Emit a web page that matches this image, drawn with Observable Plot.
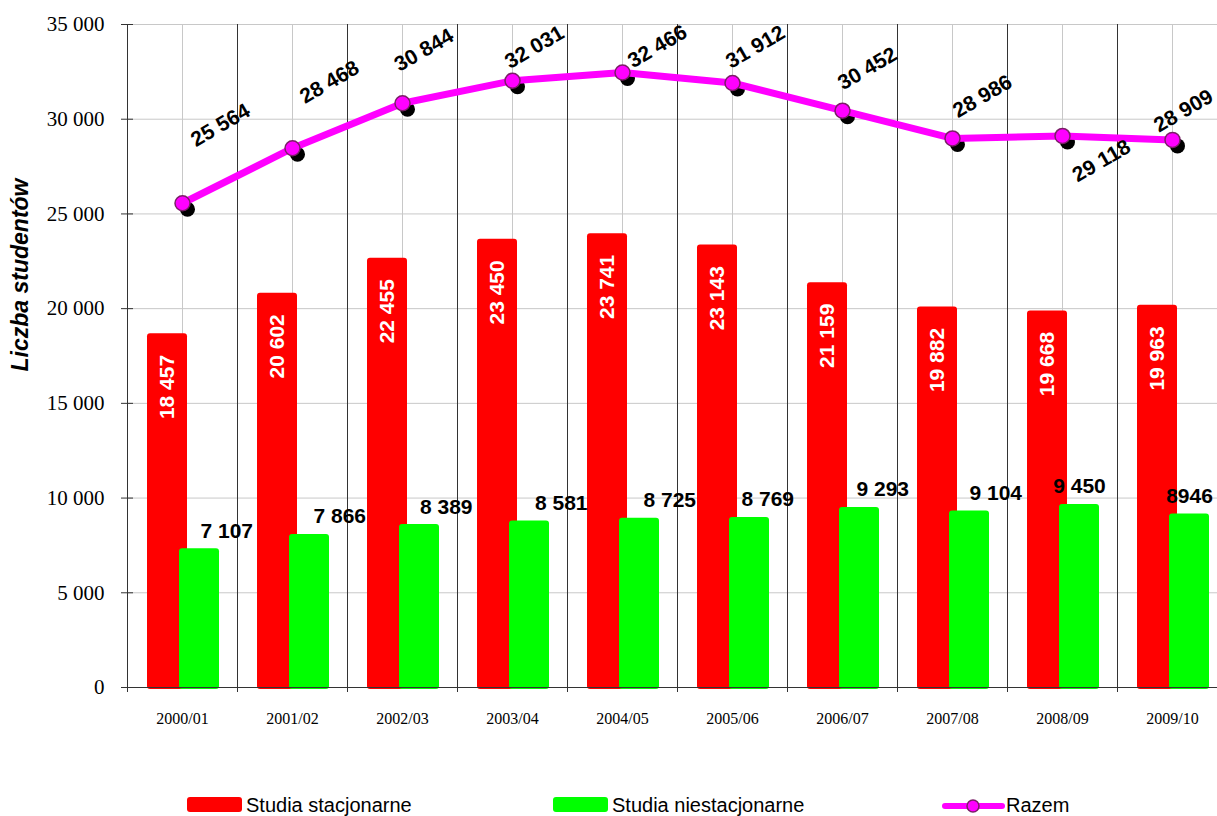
<!DOCTYPE html>
<html>
<head>
<meta charset="utf-8">
<script src="https://cdn.jsdelivr.net/npm/d3@7"></script>
<script src="https://cdn.jsdelivr.net/npm/@observablehq/plot@0.6"></script>
<style>
  html, body { margin: 0; padding: 0; background: #fff; }
  #chart svg { display: block; }
</style>
</head>
<body>
<div id="chart"></div>
<script>
// ---- data ----
const years = ["2000/01","2001/02","2002/03","2003/04","2004/05","2005/06","2006/07","2007/08","2008/09","2009/10"];
const stacjonarne = [18457, 20602, 22455, 23450, 23741, 23143, 21159, 19882, 19668, 19963];
const niestacjonarne = [7107, 7866, 8389, 8581, 8725, 8769, 9293, 9104, 9450, 8946];
const razem = [25564, 28468, 30844, 32031, 32466, 31912, 30452, 28986, 29118, 28909];
const niestacjonarneLabels = ["7 107","7 866","8 389","8 581","8 725","8 769","9 293","9 104","9 450","8946"];
const yTicks = [0, 5000, 10000, 15000, 20000, 25000, 30000, 35000];
const seriesNames = ["Studia stacjonarne", "Studia niestacjonarne", "Razem"];
const yTitle = "Liczba studentów";

// ---- label placement (styling, pixels) ----
const greenLabelPlace = [[18,"start"],[21,"start"],[17.5,"start"],[22.5,"start"],[21,"start"],[9,"start"],[14,"start"],[17,"start"],[17,"middle"],[17,"middle"]];
const totalLabelPlace = [[38,-78],[37,-66],[21.5,-53],[22,-33.5],[35,-26],[23,-36],[25,-42],[30,-42],[39,25],[11,-29]];

const fmt = v => d3.format(",")(v).replace(/,/g, " ");
const data = years.map((y, i) => ({year: y, s: stacjonarne[i], n: niestacjonarne[i], r: razem[i], nl: niestacjonarneLabels[i]}));

const W = 1217, H = 816;
const SANS = "Liberation Sans, Arial, sans-serif";
const SERIF = "Liberation Serif, Times New Roman, serif";
const bold = {fontWeight: "bold", fontSize: 21, fontFamily: SANS};

const marks = [
  Plot.ruleY(yTicks, {y: d => d, stroke: "#c8c8c8", strokeWidth: 1}),
  Plot.ruleX(years, {x: d => d, stroke: "#c8c8c8", strokeWidth: 1}),
  Plot.ruleX(years, {x: d => d, dx: -55, stroke: "#333", strokeWidth: 1, insetBottom: -5}),
  Plot.ruleY(yTicks, {y: d => d, stroke: "#333", strokeWidth: 1, insetLeft: -6, insetRight: W - 133 }),
  Plot.barY(data, {x: "year", y: "s", fill: "#ff0000", insetLeft: 20, insetRight: 50, insetTop: -4, insetBottom: -2, rx: 3}),
  Plot.barY(data, {x: "year", y: "n", fill: "#00ff00", insetLeft: 52, insetRight: 18, insetTop: -4, insetBottom: -2, rx: 3}),
  Plot.ruleY([0], {stroke: "#333", strokeWidth: 1.2}),
  // y tick labels
  Plot.text(yTicks, {y: d => d, text: d => fmt(d), frameAnchor: "left", textAnchor: "end", dx: -23,
                     fontSize: 21, fontFamily: SERIF, fill: "#000"}),
  Plot.axisX({tickSize: 0, tickPadding: 25, label: null, fontSize: 16, fontFamily: SERIF, fill: "#000"}),
  // red labels
  Plot.text(data, {x: "year", y: "s", text: d => fmt(d.s), rotate: -90, textAnchor: "end",
                   lineAnchor: "middle", dx: -15, dy: 17, fill: "white", ...bold}),
  // line
  Plot.dot(data, {x: "year", y: "r", r: 7.5, fill: "#000", dx: 5, dy: 6}),
  Plot.line(data, {x: "year", y: "r", stroke: "#ff00ff", strokeWidth: 7}),
  Plot.dot(data, {x: "year", y: "r", r: 7.5, fill: "#ff00ff", stroke: "#7a1f66", strokeWidth: 1.5})
];
data.forEach((d, i) => {
  marks.push(Plot.text([d], {x: "year", y: "n", text: "nl", textAnchor: greenLabelPlace[i][1],
    lineAnchor: "bottom", dx: greenLabelPlace[i][0], dy: -15, fill: "#000", ...bold}));
  marks.push(Plot.text([d], {x: "year", y: "r", text: dd => fmt(dd.r), rotate: -30, textAnchor: "middle",
    lineAnchor: "middle", dx: totalLabelPlace[i][0], dy: totalLabelPlace[i][1], fill: "#000", ...bold}));
});

const svg = Plot.plot({
  width: W, height: H,
  marginLeft: 127, marginTop: 24, marginBottom: H - 687, marginRight: 0,
  x: {type: "band", domain: years, range: [127, 1227], padding: 0},
  y: {domain: [0, 35000], range: [687, 24], axis: null},
  style: {background: "white", fontFamily: SANS},
  marks
});

const s = d3.select(svg);
// y title
s.append("text")
  .attr("transform", "translate(28,275) rotate(-90)")
  .attr("text-anchor", "middle")
  .style("font", "italic bold 23px 'Liberation Sans', Arial, sans-serif")
  .attr("fill", "#000")
  .text(yTitle);

// legend
const lg = s.append("g").attr("text-anchor", "start").style("font", "20px 'Liberation Sans', Arial, sans-serif");
lg.append("rect").attr("x", 187).attr("y", 797).attr("width", 55).attr("height", 15).attr("rx", 3).attr("fill", "#ff0000");
lg.append("text").attr("x", 246).attr("y", 812).attr("text-anchor", "start").attr("fill", "#000").text(seriesNames[0]);
lg.append("rect").attr("x", 553).attr("y", 797).attr("width", 55).attr("height", 15).attr("rx", 3).attr("fill", "#00ff00");
lg.append("text").attr("x", 612).attr("y", 812).attr("text-anchor", "start").attr("fill", "#000").text(seriesNames[1]);
lg.append("line").attr("x1", 945).attr("x2", 1002).attr("y1", 806).attr("y2", 806)
  .attr("stroke", "#ff00ff").attr("stroke-width", 6).attr("stroke-linecap", "round");
lg.append("circle").attr("cx", 973).attr("cy", 806).attr("r", 6).attr("fill", "#ff00ff").attr("stroke", "#7a1f66").attr("stroke-width", 1.5);
lg.append("text").attr("x", 1006).attr("y", 812).attr("text-anchor", "start").attr("fill", "#000").text(seriesNames[2]);

document.getElementById("chart").appendChild(svg);
</script>
</body>
</html>
